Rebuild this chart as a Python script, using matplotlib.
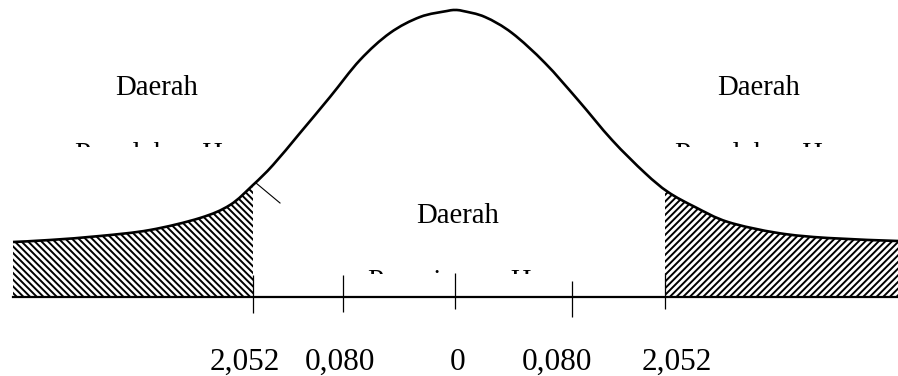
import numpy as np
import matplotlib.pyplot as plt
from matplotlib.path import Path
from matplotlib.patches import PathPatch, Rectangle

plt.rcParams['font.family'] = ['Liberation Serif', 'DejaVu Serif']
plt.rcParams['hatch.linewidth'] = 1.4

# Bell curve outline (horizontal position, height above the axis)
curve_x = [13, 50, 100, 150, 200, 230, 253, 273, 300, 330, 360, 390, 420, 447, 455,
           463, 485, 512, 545, 578, 612, 645, 668, 695, 728, 778, 828, 898]
curve_h = [55, 57, 61, 67, 79, 92, 112, 132, 164, 200, 237, 264, 280, 286, 287,
           286, 280, 264, 234, 197, 157, 124, 105, 90, 75, 64, 59, 56]

# Critical points on the axis
tick_pos = [253, 343, 455, 572, 665]
tick_top = [22, 22, 24, 16, 24]
tick_bottom = [-16, -15, -12, -20, -12]
tick_labels = ['2,052', '0,080', '0', '0,080', '2,052']
label_pos = [245, 340, 458, 557, 677]

left_cut, right_cut = 253, 665


def smooth_path(xs, ys):
    # Catmull-Rom through the points, expressed as cubic Bezier segments
    p = np.column_stack([xs, ys]).astype(float)
    p = np.vstack([p[0], p, p[-1]])
    verts = [p[1]]
    codes = [Path.MOVETO]
    for i in range(1, len(p) - 2):
        c1 = p[i] + (p[i + 1] - p[i - 1]) / 6
        c2 = p[i + 1] - (p[i + 2] - p[i]) / 6
        verts += [c1, c2, p[i + 1]]
        codes += [Path.CURVE4] * 3
    return verts, codes


fig = plt.figure(figsize=(8.98, 3.76), dpi=100)
ax = fig.add_axes([0, 0, 1, 1])
ax.set_xlim(0, 898)
ax.set_ylim(-79, 297)
ax.axis('off')

verts, codes = smooth_path(curve_x, curve_h)

# shaded rejection regions
area_verts = verts + [(curve_x[-1], 0), (curve_x[0], 0), (curve_x[0], curve_h[0])]
area_codes = codes + [Path.LINETO, Path.LINETO, Path.CLOSEPOLY]
area = Path(area_verts, area_codes)
for x0, x1, hatch in [(curve_x[0], left_cut, '\\' * 5), (right_cut, curve_x[-1], '/' * 5)]:
    patch = PathPatch(area, facecolor='none', edgecolor='black', lw=0, hatch=hatch)
    ax.add_patch(patch)
    patch.set_clip_path(Rectangle((x0, -1), x1 - x0, 300, transform=ax.transData))

ax.add_patch(PathPatch(Path(verts, codes), facecolor='none', edgecolor='black', lw=1.9))

# horizontal axis and ticks
ax.plot([curve_x[0], curve_x[-1]], [0, 0], color='black', lw=1.6)
ax.vlines(tick_pos, tick_bottom, tick_top, color='black', lw=0.9)
ax.plot([256, 280], [114, 94], color='black', lw=0.8)

for x, lab in zip(label_pos, tick_labels):
    ax.text(x, -73, lab, ha='center', va='baseline', fontsize=22.5)

for x in [156.5, 758.5]:
    ax.text(x, 202, 'Daerah', ha='center', va='baseline', fontsize=20.7)
ax.text(457.5, 74, 'Daerah', ha='center', va='baseline', fontsize=20.7)

# second lines are cut off at the top half
for x, y, s, cut in [(75, 135.5, 'Penolakan H\u2080', 150.5), (675, 135.5, 'Penolakan H\u2080', 150.5),
                     (368, 8, 'Penerimaan H\u2080', 23.5)]:
    t = ax.text(x, y, s, ha='left', va='baseline', fontsize=20.7, clip_on=True)
    t.set_clip_path(Rectangle((0, cut), 898, 300, transform=ax.transData))

fig.savefig('out.png', dpi=100)
